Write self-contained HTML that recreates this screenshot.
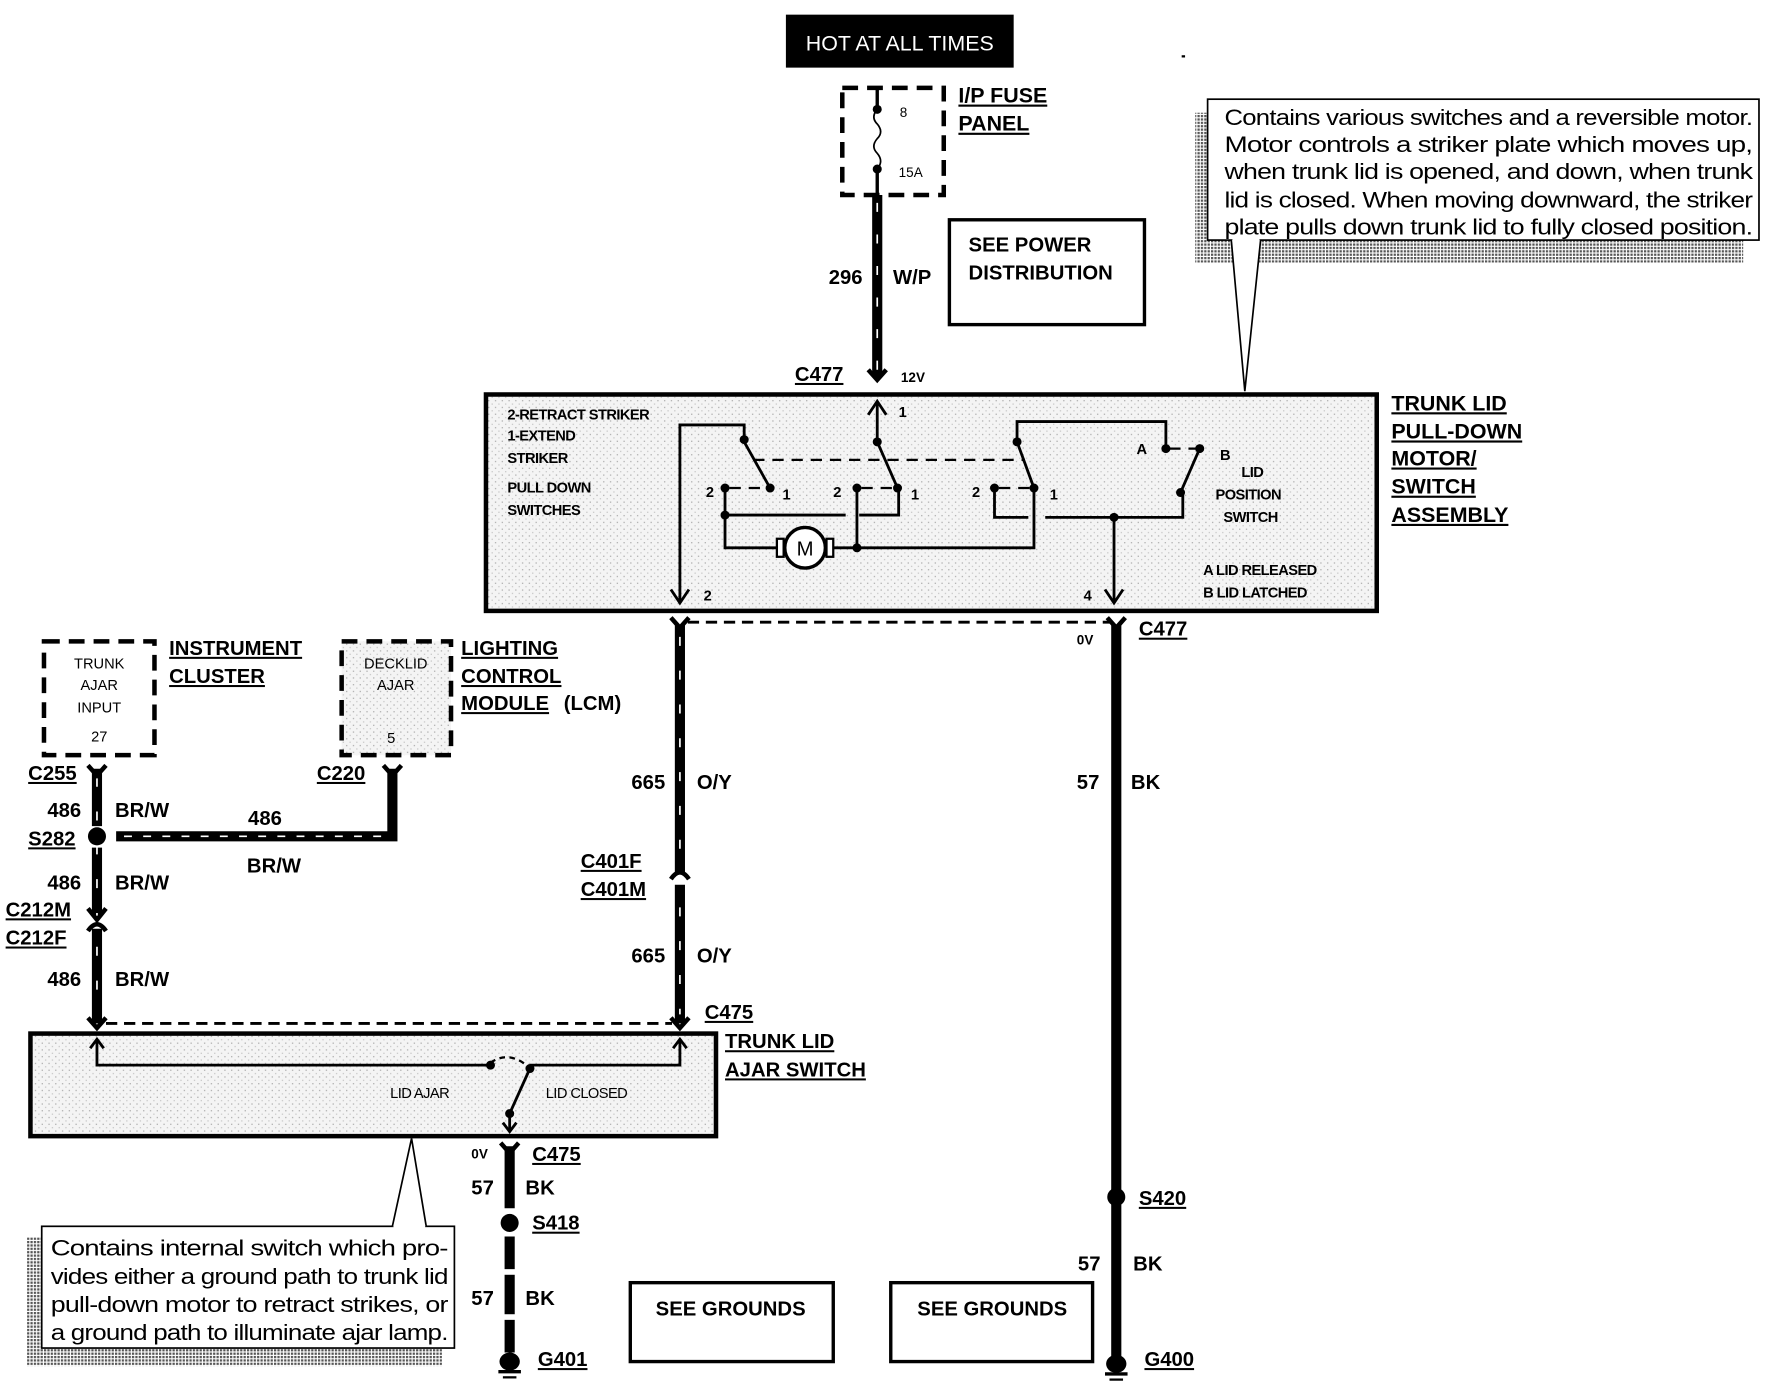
<!DOCTYPE html>
<html><head><meta charset="utf-8"><style>
html,body{margin:0;padding:0;background:#fff;}
svg{display:block;}
text{font-family:"Liberation Sans",sans-serif;}
.b{font-weight:bold;}
.u{text-decoration:underline;}
</style></head><body>
<svg width="1768" height="1392" viewBox="0 0 1568 1235" preserveAspectRatio="none" xmlns="http://www.w3.org/2000/svg">
<defs>
<pattern id="dots" width="6" height="6" patternUnits="userSpaceOnUse"><rect width="6" height="6" fill="#f4f4f4"/><rect x="1" y="1" width="1" height="1" fill="#999"/><rect x="4" y="4" width="1" height="1" fill="#bbb"/></pattern>
<pattern id="shade" width="3" height="3" patternUnits="userSpaceOnUse"><rect width="3" height="3" fill="#fff"/><rect width="2" height="2" fill="#555"/></pattern>
</defs>
<rect x="697" y="13" width="202" height="47" fill="#000"/>
<text x="798" y="45" fill="#fff" font-size="19" text-anchor="middle">HOT AT ALL TIMES</text>

<rect x="747" y="78" width="90" height="95" fill="none" stroke="#000" stroke-width="4" stroke-dasharray="14,8"/>
<line x1="778" y1="78" x2="778" y2="97" stroke="#000" stroke-width="3"/>
<path d="M778 97 q-6 7 0 13 q6 7 0 13 q-6 7 0 13 q6 7 0 14" fill="none" stroke="#000" stroke-width="1.5"/>
<line x1="778" y1="150" x2="778" y2="173" stroke="#000" stroke-width="3"/>
<circle cx="778" cy="97" r="4"/><circle cx="778" cy="150" r="4"/>
<text x="798" y="104" font-size="12">8</text>
<text x="797" y="157" font-size="12">15A</text>
<text x="850" y="91" font-size="19" class="b u">I/P FUSE</text>
<text x="850" y="116" font-size="19" class="b u">PANEL</text>

<line x1="778" y1="173" x2="778" y2="334" stroke="#000" stroke-width="9"/>
<line x1="778" y1="180" x2="778" y2="330" stroke="#fff" stroke-width="1.5" stroke-dasharray="8,20"/>
<text x="765" y="252" font-size="18" class="b" text-anchor="end">296</text>
<text x="792" y="252" font-size="18" class="b">W/P</text>
<path d="M770 328 L778 337 L786 328" fill="none" stroke="#000" stroke-width="4"/>
<text x="705" y="338" font-size="18" class="b u">C477</text>
<text x="799" y="339" font-size="12" class="b">12V</text>

<rect x="842" y="195" width="173" height="93" fill="none" stroke="#000" stroke-width="3"/>
<text x="859" y="223" font-size="18" class="b">SEE POWER</text>
<text x="859" y="248" font-size="18" class="b">DISTRIBUTION</text>

<rect x="1060" y="100" width="486" height="133" fill="url(#shade)"/>
<rect x="1071" y="88" width="489" height="125" fill="#fff" stroke="#000" stroke-width="1.5"/>
<path d="M1092 213 L1104 347 L1118 213" fill="#fff" stroke="#000" stroke-width="1.5"/>
<line x1="1093" y1="213" x2="1117" y2="213" stroke="#fff" stroke-width="3"/>
<g font-size="20" letter-spacing="-0.6">
<text x="1086" y="111" textLength="468" lengthAdjust="spacingAndGlyphs">Contains various switches and a reversible motor.</text>
<text x="1086" y="135" textLength="468" lengthAdjust="spacingAndGlyphs">Motor controls a striker plate which moves up,</text>
<text x="1086" y="159" textLength="468" lengthAdjust="spacingAndGlyphs">when trunk lid is opened, and down, when trunk</text>
<text x="1086" y="184" textLength="468" lengthAdjust="spacingAndGlyphs">lid is closed. When moving downward, the striker</text>
<text x="1086" y="208" textLength="468" lengthAdjust="spacingAndGlyphs">plate pulls down trunk lid to fully closed position.</text>
</g>

<rect x="431" y="350" width="790" height="192" fill="url(#dots)" stroke="#000" stroke-width="4"/>
<g font-size="13" class="b" letter-spacing="-0.5">
<text x="450" y="372">2-RETRACT STRIKER</text>
<text x="450" y="391">1-EXTEND</text>
<text x="450" y="411">STRIKER</text>
<text x="450" y="437">PULL DOWN</text>
<text x="450" y="457">SWITCHES</text>
<text x="1101" y="423">LID</text>
<text x="1078" y="443">POSITION</text>
<text x="1085" y="463">SWITCH</text>
<text x="1067" y="510">A LID RELEASED</text>
<text x="1067" y="530">B LID LATCHED</text>
<text x="1008" y="403">A</text>
<text x="1082" y="408">B</text>
<text x="797" y="370">1</text>
<text x="624" y="533">2</text>
<text x="961" y="533">4</text>
<text x="626" y="441">2</text><text x="694" y="443">1</text>
<text x="739" y="441">2</text><text x="808" y="443">1</text>
<text x="862" y="441">2</text><text x="931" y="443">1</text>
</g>
<g fill="none" stroke="#000" stroke-width="2.5">
<polyline points="603,535 603,377 660,377 660,390"/>
<line x1="660" y1="392" x2="683" y2="433"/>
<polyline points="778,356 778,392"/>
<line x1="778" y1="392" x2="796" y2="433"/>
<polyline points="902,392 902,374 1034,374 1034,398"/>
<line x1="902" y1="392" x2="917" y2="433"/>
<line x1="1064" y1="398" x2="1047" y2="437"/>
<polyline points="643,433 643,486 690,486"/>
<polyline points="643,457 750,457"/>
<polyline points="760,433 760,486 917,486 917,433"/>
<polyline points="797,433 797,457 762,457"/>
<polyline points="882,433 882,459 912,459"/>
<polyline points="927,459 1049,459 1049,437"/>
<line x1="988" y1="459" x2="988" y2="535"/>
<line x1="737" y1="486" x2="760" y2="486"/>
<path d="M595 523 L603 535 L611 523"/>
<path d="M980 523 L988 535 L996 523"/>
<path d="M770 368 L778 356 L786 368"/>
</g>
<g stroke="#000" stroke-width="2" stroke-dasharray="10,7" fill="none">
<line x1="668" y1="408" x2="909" y2="408"/>
<line x1="647" y1="433" x2="680" y2="433"/>
<line x1="764" y1="433" x2="793" y2="433"/>
<line x1="886" y1="433" x2="914" y2="433"/>
<line x1="1037" y1="398" x2="1062" y2="398"/>
</g>
<g fill="#000">
<circle cx="660" cy="390" r="4"/><circle cx="683" cy="433" r="4"/><circle cx="643" cy="433" r="4"/><circle cx="643" cy="457" r="4"/>
<circle cx="778" cy="392" r="4"/><circle cx="796" cy="433" r="4"/><circle cx="760" cy="433" r="4"/><circle cx="760" cy="486" r="4"/>
<circle cx="902" cy="392" r="4"/><circle cx="917" cy="433" r="4"/><circle cx="882" cy="433" r="4"/>
<circle cx="1034" cy="398" r="4"/><circle cx="1064" cy="398" r="4"/><circle cx="1047" cy="437" r="4"/><circle cx="988" cy="459" r="4"/>
</g>
<rect x="689" y="478" width="6" height="16" fill="#fff" stroke="#000" stroke-width="2"/>
<rect x="733" y="478" width="6" height="16" fill="#fff" stroke="#000" stroke-width="2"/>
<circle cx="714" cy="486" r="18" fill="#fff" stroke="#000" stroke-width="3"/>
<text x="714" y="493" font-size="18" text-anchor="middle">M</text>

<g font-size="19" class="b u">
<text x="1234" y="364">TRUNK LID</text>
<text x="1234" y="389">PULL-DOWN</text>
<text x="1234" y="413">MOTOR/</text>
<text x="1234" y="438">SWITCH</text>
<text x="1234" y="463">ASSEMBLY</text>
</g>

<line x1="610" y1="552" x2="984" y2="552" stroke="#000" stroke-width="2.5" stroke-dasharray="10,6"/>
<path d="M595 548 L603 557 L611 548" fill="none" stroke="#000" stroke-width="4"/>
<path d="M982 548 L990 557 L998 548" fill="none" stroke="#000" stroke-width="4"/>
<text x="1010" y="564" font-size="18" class="b u">C477</text>
<text x="955" y="572" font-size="12" class="b">0V</text>

<line x1="603" y1="555" x2="603" y2="775" stroke="#000" stroke-width="9"/>
<line x1="603" y1="785" x2="603" y2="908" stroke="#000" stroke-width="9"/>
<line x1="603" y1="565" x2="603" y2="900" stroke="#fff" stroke-width="1.5" stroke-dasharray="8,22"/>
<path d="M595 780 Q603 768 611 780" fill="none" stroke="#000" stroke-width="4"/>
<text x="590" y="700" font-size="18" class="b" text-anchor="end">665</text>
<text x="618" y="700" font-size="18" class="b">O/Y</text>
<text x="590" y="854" font-size="18" class="b" text-anchor="end">665</text>
<text x="618" y="854" font-size="18" class="b">O/Y</text>
<text x="515" y="770" font-size="18" class="b u">C401F</text>
<text x="515" y="795" font-size="18" class="b u">C401M</text>
<text x="625" y="904" font-size="18" class="b u">C475</text>

<line x1="990" y1="555" x2="990" y2="1205" stroke="#000" stroke-width="9"/>
<circle cx="990" cy="1062" r="8"/>
<text x="975" y="700" font-size="18" class="b" text-anchor="end">57</text>
<text x="1003" y="700" font-size="18" class="b">BK</text>
<text x="1010" y="1069" font-size="18" class="b u">S420</text>
<text x="976" y="1127" font-size="18" class="b" text-anchor="end">57</text>
<text x="1005" y="1127" font-size="18" class="b">BK</text>
<text x="1015" y="1212" font-size="18" class="b u">G400</text>
<ellipse cx="990" cy="1210" rx="9" ry="8"/>
<line x1="980" y1="1219" x2="1000" y2="1219" stroke="#000" stroke-width="3"/>
<line x1="984" y1="1224" x2="996" y2="1224" stroke="#000" stroke-width="2"/>

<rect x="39" y="569" width="98" height="101" fill="#fff" stroke="#000" stroke-width="4" stroke-dasharray="14,8"/>
<rect x="303" y="569" width="97" height="101" fill="url(#dots)" stroke="#000" stroke-width="4" stroke-dasharray="14,8"/>
<g font-size="13" text-anchor="middle">
<text x="88" y="593">TRUNK</text><text x="88" y="612">AJAR</text><text x="88" y="632">INPUT</text><text x="88" y="658">27</text>
<text x="351" y="593">DECKLID</text><text x="351" y="612">AJAR</text><text x="347" y="659">5</text>
</g>
<g font-size="18" class="b u">
<text x="150" y="581">INSTRUMENT</text><text x="150" y="606">CLUSTER</text>
<text x="409" y="581">LIGHTING</text><text x="409" y="606">CONTROL</text><text x="409" y="630">MODULE</text>
</g>
<text x="500" y="630" font-size="18" class="b">(LCM)</text>

<line x1="86" y1="682" x2="86" y2="733" stroke="#000" stroke-width="9"/>
<line x1="86" y1="752" x2="86" y2="812" stroke="#000" stroke-width="9"/>
<line x1="86" y1="824" x2="86" y2="908" stroke="#000" stroke-width="9"/>
<line x1="86" y1="690" x2="86" y2="900" stroke="#fff" stroke-width="1.5" stroke-dasharray="8,22"/>
<circle cx="86" cy="742" r="8"/>
<polyline points="103,742 348,742 348,682" fill="none" stroke="#000" stroke-width="9"/>
<line x1="110" y1="742" x2="340" y2="742" stroke="#fff" stroke-width="1.5" stroke-dasharray="7,10"/>
<path d="M78 679 L86 688 L94 679" fill="none" stroke="#000" stroke-width="4"/>
<path d="M340 679 L348 688 L356 679" fill="none" stroke="#000" stroke-width="4"/>
<path d="M78 806 L86 816 L94 806" fill="none" stroke="#000" stroke-width="4"/>
<path d="M78 826 Q86 814 94 826" fill="none" stroke="#000" stroke-width="4"/>
<g font-size="18" class="b">
<text x="72" y="725" text-anchor="end">486</text><text x="102" y="725">BR/W</text>
<text x="220" y="732">486</text><text x="219" y="774">BR/W</text>
<text x="72" y="789" text-anchor="end">486</text><text x="102" y="789">BR/W</text>
<text x="72" y="875" text-anchor="end">486</text><text x="102" y="875">BR/W</text>
</g>
<g font-size="18" class="b u">
<text x="25" y="692">C255</text><text x="281" y="692">C220</text><text x="25" y="750">S282</text>
<text x="5" y="813">C212M</text><text x="5" y="838">C212F</text>
</g>

<line x1="94" y1="908" x2="596" y2="908" stroke="#000" stroke-width="2.5" stroke-dasharray="10,6"/>
<path d="M78 903 L86 912 L94 903" fill="none" stroke="#000" stroke-width="4"/>
<path d="M595 903 L603 912 L611 903" fill="none" stroke="#000" stroke-width="4"/>
<rect x="27" y="917" width="608" height="91" fill="url(#dots)" stroke="#000" stroke-width="4"/>
<polyline points="86,922 86,945 433,945" fill="none" stroke="#000" stroke-width="2.5"/>
<polyline points="470,945 603,945 603,922" fill="none" stroke="#000" stroke-width="2.5"/>
<path d="M80 930 L86 922 L92 930 M597 930 L603 922 L609 930" fill="none" stroke="#000" stroke-width="2.5"/>
<path d="M435 943 Q450 932 467 945" fill="none" stroke="#000" stroke-width="2" stroke-dasharray="5,4"/>
<line x1="470" y1="948" x2="452" y2="988" stroke="#000" stroke-width="2.5"/>
<line x1="452" y1="988" x2="452" y2="1003" stroke="#000" stroke-width="2.5"/>
<path d="M446 996 L452 1004 L458 996" fill="none" stroke="#000" stroke-width="2.5"/>
<circle cx="435" cy="945" r="4"/><circle cx="470" cy="948" r="4"/><circle cx="452" cy="988" r="4"/>
<text x="346" y="974" font-size="13" letter-spacing="-0.5">LID AJAR</text>
<text x="484" y="974" font-size="13" letter-spacing="-0.5">LID CLOSED</text>
<text x="643" y="930" font-size="18" class="b u">TRUNK LID</text>
<text x="643" y="955" font-size="18" class="b u">AJAR SWITCH</text>

<line x1="452" y1="1017" x2="452" y2="1200" stroke="#000" stroke-width="9"/>
<line x1="452" y1="1072" x2="452" y2="1097" stroke="#fff" stroke-width="10"/>
<line x1="452" y1="1126" x2="452" y2="1131" stroke="#fff" stroke-width="10"/>
<line x1="452" y1="1166" x2="452" y2="1171" stroke="#fff" stroke-width="10"/>
<circle cx="452" cy="1085" r="8"/>
<path d="M444 1014 L452 1023 L460 1014" fill="none" stroke="#000" stroke-width="4"/>
<text x="418" y="1028" font-size="12" class="b">0V</text>
<text x="472" y="1030" font-size="18" class="b u">C475</text>
<text x="438" y="1060" font-size="18" class="b" text-anchor="end">57</text>
<text x="466" y="1060" font-size="18" class="b">BK</text>
<text x="472" y="1091" font-size="18" class="b u">S418</text>
<text x="438" y="1158" font-size="18" class="b" text-anchor="end">57</text>
<text x="466" y="1158" font-size="18" class="b">BK</text>
<text x="477" y="1212" font-size="18" class="b u">G401</text>
<ellipse cx="452" cy="1208" rx="9" ry="8"/>
<line x1="442" y1="1217" x2="462" y2="1217" stroke="#000" stroke-width="3"/>
<line x1="446" y1="1222" x2="458" y2="1222" stroke="#000" stroke-width="2"/>

<rect x="559" y="1138" width="180" height="70" fill="none" stroke="#000" stroke-width="3"/>
<rect x="790" y="1138" width="179" height="70" fill="none" stroke="#000" stroke-width="3"/>
<text x="648" y="1167" font-size="18" class="b" text-anchor="middle">SEE GROUNDS</text>
<text x="880" y="1167" font-size="18" class="b" text-anchor="middle">SEE GROUNDS</text>

<rect x="24" y="1098" width="368" height="114" fill="url(#shade)"/>
<rect x="37" y="1088" width="366" height="108" fill="#fff" stroke="#000" stroke-width="1.5"/>
<path d="M348 1088 L365 1010 L378 1088" fill="#fff" stroke="#000" stroke-width="1.5"/>
<line x1="349" y1="1088" x2="377" y2="1088" stroke="#fff" stroke-width="3"/>
<g font-size="20" letter-spacing="-0.6">
<text x="45" y="1114" textLength="352" lengthAdjust="spacingAndGlyphs">Contains internal switch which pro-</text>
<text x="45" y="1139" textLength="352" lengthAdjust="spacingAndGlyphs">vides either a ground path to trunk lid</text>
<text x="45" y="1164" textLength="352" lengthAdjust="spacingAndGlyphs">pull-down motor to retract strikes, or</text>
<text x="45" y="1189" textLength="352" lengthAdjust="spacingAndGlyphs">a ground path to illuminate ajar lamp.</text>
</g>
<rect x="1048" y="49" width="3" height="2" fill="#000"/>
</svg>
</body></html>
